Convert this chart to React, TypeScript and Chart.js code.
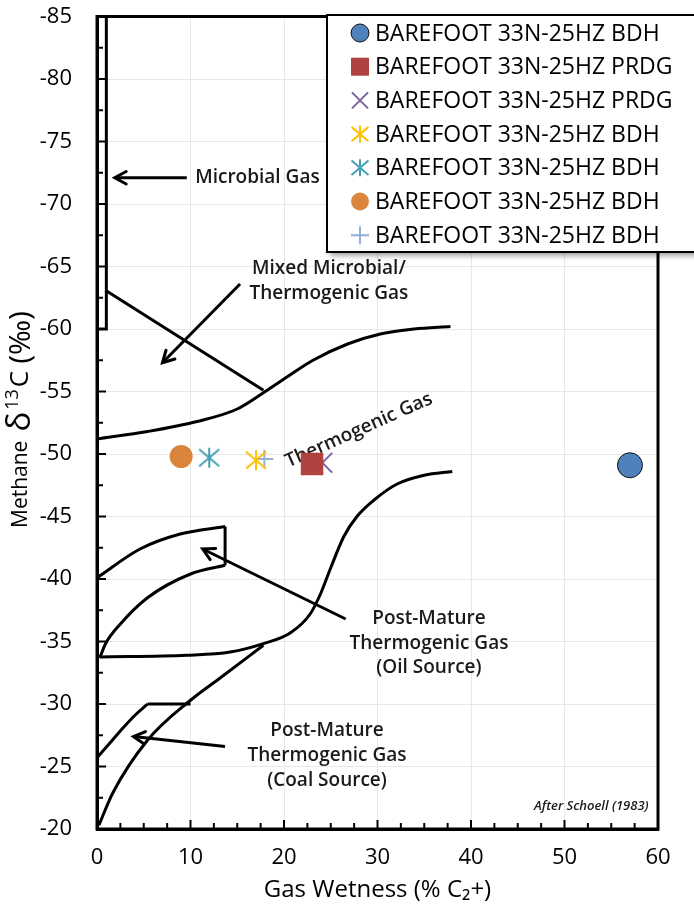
import React, { useEffect, useRef } from 'react';
import { Chart, registerables } from 'chart.js';

Chart.register(...registerables);

const FONT = '"Open Sans", "Liberation Sans", sans-serif';

// ---------- sample series ----------
const seriesLabels = [
  'BAREFOOT 33N-25HZ BDH',
  'BAREFOOT 33N-25HZ PRDG',
  'BAREFOOT 33N-25HZ PRDG',
  'BAREFOOT 33N-25HZ BDH',
  'BAREFOOT 33N-25HZ BDH',
  'BAREFOOT 33N-25HZ BDH',
  'BAREFOOT 33N-25HZ BDH',
];
const seriesX = [57.0, 23.0, 24.1, 17.0, 12.0, 9.0, 17.9];
const seriesY = [-49.1, -49.2, -49.3, -49.5, -49.7, -49.8, -49.6];
const seriesColors = ['#4F81BD', '#B0433F', '#7B62A0', '#FFC000', '#449FB5', '#DA843C', '#93AFD6'];
const seriesStyles = ['circle', 'rect', 'crossRot', 'asterisk', 'asterisk', 'circle', 'cross'];

// ---------- Schoell (1983) field boundaries ----------
const microbialBoxX = [1, 1, 0];
const microbialBoxY = [-85, -60, -60];

const mixedLineX = [0.9, 17.8];
const mixedLineY = [-63.1, -55.1];

const thermoUpperX = [0, 5.4, 10.7, 15.0, 17.8, 20.4, 23.1, 26.8, 30.3, 33.9, 37.8];
const thermoUpperY = [-51.2, -51.8, -52.6, -53.6, -54.9, -56.2, -57.5, -58.8, -59.6, -60.0, -60.2];

const thermoLowerX = [0.3, 9.6, 14.25, 17.8, 20.7, 22.8, 23.9, 25.0, 26.4, 27.8, 29.6, 32.1, 35.0, 38.0];
const thermoLowerY = [-33.76, -33.9, -34.16, -34.83, -35.7, -37.2, -38.8, -40.9, -43.4, -45.0, -46.3, -47.6, -48.3, -48.6];

const oilUpperX = [0, 4.6, 8.9, 13.7];
const oilUpperY = [-40.1, -42.4, -43.6, -44.2];
const oilSideX = [13.7, 13.7];
const oilSideY = [-44.2, -41.1];
const oilLowerX = [0.3, 0.9, 2.5, 5.4, 10.0, 13.7];
const oilLowerY = [-33.7, -34.8, -36.4, -38.5, -40.4, -41.1];

const coalUpperX = [0, 1.4, 2.8, 4.2, 5.4];
const coalUpperY = [-25.7, -26.9, -28.1, -29.2, -30.0];
const coalTopX = [5.4, 10.0];
const coalTopY = [-30.0, -30.0];
const coalLowerX = [0.2, 1.7, 5.4, 10.0, 13.2, 17.8];
const coalLowerY = [-20.3, -22.9, -27.1, -30.3, -32.1, -34.7];

// arrows (tail -> head)
const arrowFromX = [9.6, 15.3, 26.6, 13.7];
const arrowFromY = [-72.1, -63.6, -36.8, -26.6];
const arrowToX = [1.9, 7.0, 11.3, 3.9];
const arrowToY = [-72.1, -57.3, -42.4, -27.4];

// annotation texts
const noteTexts = [
  'Microbial Gas',
  'Mixed Microbial/',
  'Thermogenic Gas',
  'Thermogenic Gas',
  'Post-Mature',
  'Thermogenic Gas',
  '(Oil Source)',
  'Post-Mature',
  'Thermogenic Gas',
  '(Coal Source)',
];
const noteX = [10.5, 24.8, 24.8, 28.0, 35.5, 35.5, 35.5, 24.6, 24.6, 24.6];
const noteY = [-72.1, -64.8, -62.8, -51.9, -36.85, -34.8, -32.9, -27.9, -25.9, -23.9];
const noteAlign = ['left', 'center', 'center', 'center', 'center', 'center', 'center', 'center', 'center', 'center'];
const noteRotation = [0, 0, 0, -24, 0, 0, 0, 0, 0, 0];

const creditText = 'After Schoell (1983)';
const creditX = 59.0;
const creditY = -21.8;

// axis titles (y title drawn with a real superscript)
const xTitle = 'Gas Wetness (% C₂+)';
const yTitleParts = ['Methane', 'δ', '13', 'C', '(‰)'];

const xMin = 0, xMax = 60, xMajor = 10;
const yMin = -85, yMax = -20, yMajor = 5;
const minorStep = 2.5;

const pts = (xs: number[], ys: number[]) => xs.map((x, i) => ({ x, y: ys[i] }));
const isMult = (v: number, m: number) => Math.abs(v / m - Math.round(v / m)) < 1e-6;

function asteriskCanvas(color: string, r: number, lw: number) {
  const c = document.createElement('canvas');
  const s = Math.ceil(r * 2 + lw * 2 + 2);
  c.width = s;
  c.height = s;
  const g = c.getContext('2d')!;
  const cx = s / 2, cy = s / 2;
  g.strokeStyle = color;
  g.lineWidth = lw;
  g.beginPath();
  g.moveTo(cx, cy - r); g.lineTo(cx, cy + r);
  g.moveTo(cx - r, cy - r * 0.85); g.lineTo(cx + r, cy + r * 0.85);
  g.moveTo(cx - r, cy + r * 0.85); g.lineTo(cx + r, cy - r * 0.85);
  g.stroke();
  return c;
}

function drawMarker(ctx: CanvasRenderingContext2D, style: string, x: number, y: number, color: string, outlined: boolean) {
  ctx.save();
  ctx.fillStyle = color;
  ctx.strokeStyle = color;
  ctx.lineWidth = 2;
  if (style === 'circle') {
    ctx.beginPath();
    ctx.arc(x, y, 9, 0, Math.PI * 2);
    ctx.fill();
    if (outlined) {
      ctx.strokeStyle = '#111';
      ctx.lineWidth = 1;
      ctx.stroke();
    }
  } else if (style === 'rect') {
    ctx.fillRect(x - 9, y - 9, 18, 18);
  } else if (style === 'crossRot') {
    ctx.beginPath();
    ctx.moveTo(x - 8, y - 8); ctx.lineTo(x + 8, y + 8);
    ctx.moveTo(x - 8, y + 8); ctx.lineTo(x + 8, y - 8);
    ctx.stroke();
  } else if (style === 'asterisk') {
    const r = 8.5;
    ctx.beginPath();
    ctx.moveTo(x, y - r); ctx.lineTo(x, y + r);
    ctx.moveTo(x - r, y - r * 0.85); ctx.lineTo(x + r, y + r * 0.85);
    ctx.moveTo(x - r, y + r * 0.85); ctx.lineTo(x + r, y - r * 0.85);
    ctx.stroke();
  } else if (style === 'cross') {
    ctx.beginPath();
    ctx.moveTo(x - 9, y); ctx.lineTo(x + 9, y);
    ctx.moveTo(x, y - 9); ctx.lineTo(x, y + 9);
    ctx.stroke();
  }
  ctx.restore();
}

export default function App() {
  const ref = useRef<HTMLCanvasElement | null>(null);

  useEffect(() => {
    document.body.style.margin = '0';
    const canvas = ref.current!;

    const pointStyleFor = (i: number): any => {
      const st = seriesStyles[i];
      if (st === 'asterisk') return asteriskCanvas(seriesColors[i], 10, 2);
      return st;
    };
    const radiusFor = [12.5, 14.5, 14, 11, 11, 10.5, 9];

    const seriesDatasets = seriesLabels.map((label, i) => ({
      label,
      type: 'scatter' as const,
      data: [{ x: seriesX[i], y: seriesY[i] }],
      pointStyle: pointStyleFor(i),
      pointRadius: radiusFor[i],
      backgroundColor: seriesColors[i],
      borderColor: i === 0 ? '#111' : seriesColors[i],
      borderWidth: i === 0 ? 1 : 2,
      showLine: false,
      order: 0,
    }));

    const lineDs = (data: any[], smooth: boolean) => ({
      type: 'line' as const,
      data,
      borderColor: '#000',
      borderWidth: 3,
      pointRadius: 0,
      fill: false,
      tension: smooth ? 0.4 : 0,
      cubicInterpolationMode: smooth ? 'monotone' : 'default',
      showLine: true,
      order: 5,
    });

    const boundaryDatasets = [
      lineDs(pts(microbialBoxX, microbialBoxY), false),
      lineDs(pts(mixedLineX, mixedLineY), false),
      lineDs(pts(thermoUpperX, thermoUpperY), true),
      lineDs(pts(thermoLowerX, thermoLowerY), true),
      lineDs(pts(oilUpperX, oilUpperY), true),
      lineDs(pts(oilSideX, oilSideY), false),
      lineDs(pts(oilLowerX, oilLowerY), true),
      lineDs(pts(coalUpperX, coalUpperY), true),
      lineDs(pts(coalTopX, coalTopY), false),
      lineDs(pts(coalLowerX, coalLowerY), true),
    ];
    const arrowDatasets = arrowFromX.map((fx, i) =>
      lineDs([{ x: fx, y: arrowFromY[i] }, { x: arrowToX[i], y: arrowToY[i] }], false)
    );

    const decorPlugin = {
      id: 'decor',
      beforeDatasetsDraw(chart: any) {
        const { ctx, scales } = chart;
        const xs = scales.x, ys = scales.y;
        ctx.save();
        ctx.fillStyle = '#1a1a1a';
        ctx.textBaseline = 'middle';
        ctx.font = `600 19px ${FONT}`;
        noteTexts.forEach((t, i) => {
          const px = xs.getPixelForValue(noteX[i]);
          const py = ys.getPixelForValue(noteY[i]);
          ctx.save();
          ctx.translate(px, py);
          ctx.rotate((noteRotation[i] * Math.PI) / 180);
          ctx.textAlign = noteAlign[i] as CanvasTextAlign;
          ctx.fillText(t, 0, 0);
          ctx.restore();
        });
        ctx.font = `italic 600 13px ${FONT}`;
        ctx.textAlign = 'right';
        ctx.fillText(creditText, xs.getPixelForValue(creditX), ys.getPixelForValue(creditY));
        ctx.restore();
      },
      afterDatasetsDraw(chart: any) {
        const { ctx, scales } = chart;
        const xs = scales.x, ys = scales.y;
        ctx.save();
        ctx.strokeStyle = '#000';
        ctx.lineWidth = 3;
        ctx.lineCap = 'round';
        arrowFromX.forEach((fx, i) => {
          const x0 = xs.getPixelForValue(fx), y0 = ys.getPixelForValue(arrowFromY[i]);
          const x1 = xs.getPixelForValue(arrowToX[i]), y1 = ys.getPixelForValue(arrowToY[i]);
          const a = Math.atan2(y1 - y0, x1 - x0);
          const L = 13, w = 0.5;
          ctx.beginPath();
          ctx.moveTo(x1 - L * Math.cos(a - w), y1 - L * Math.sin(a - w));
          ctx.lineTo(x1, y1);
          ctx.lineTo(x1 - L * Math.cos(a + w), y1 - L * Math.sin(a + w));
          ctx.stroke();
        });
        ctx.restore();
      },
      afterDraw(chart: any) {
        const { ctx, scales, chartArea } = chart;
        const xs = scales.x, ys = scales.y;
        const { left, right, top, bottom } = chartArea;
        ctx.save();
        ctx.strokeStyle = '#000';
        ctx.lineWidth = 2;
        xs.ticks.forEach((t: any) => {
          const px = xs.getPixelForValue(t.value);
          const len = isMult(t.value, xMajor) ? 9 : 6;
          ctx.beginPath();
          ctx.moveTo(px, bottom);
          ctx.lineTo(px, bottom - len);
          ctx.stroke();
        });
        ys.ticks.forEach((t: any) => {
          const py = ys.getPixelForValue(t.value);
          const len = isMult(t.value, yMajor) ? 9 : 6;
          ctx.beginPath();
          ctx.moveTo(left, py);
          ctx.lineTo(left + len, py);
          ctx.stroke();
        });
        ctx.lineWidth = 3;
        ctx.strokeRect(left, top, right - left, bottom - top);

        // y axis title: Methane δ13C (‰), with superscript 13
        ctx.save();
        ctx.translate(21, 528);
        ctx.rotate(-Math.PI / 2);
        ctx.fillStyle = '#000';
        ctx.textBaseline = 'middle';
        ctx.textAlign = 'left';
        const fonts = [`21px ${FONT}`, `33px ${FONT}`, `18px ${FONT}`, `26px ${FONT}`, `30px ${FONT}`];
        const gapsBefore = [0, 9, 2, 2, 7];
        const dy = [0, 0, -8, 0, 0];
        let pos = 0;
        yTitleParts.forEach((p, i) => {
          ctx.font = fonts[i];
          pos += gapsBefore[i];
          ctx.fillText(p, pos, dy[i]);
          pos += ctx.measureText(p).width;
        });
        ctx.restore();

        // legend
        const bx = 327, by = 15, bw = 380, bh = 237;
        ctx.shadowColor = 'rgba(0,0,0,0.45)';
        ctx.shadowBlur = 6;
        ctx.shadowOffsetX = 3;
        ctx.shadowOffsetY = 3;
        ctx.fillStyle = '#fff';
        ctx.fillRect(bx, by, bw, bh);
        ctx.shadowColor = 'rgba(0,0,0,0)';
        ctx.lineWidth = 2;
        ctx.strokeStyle = '#000';
        ctx.strokeRect(bx, by, bw, bh);
        ctx.font = `23px ${FONT}`;
        ctx.textBaseline = 'middle';
        ctx.textAlign = 'left';
        seriesLabels.forEach((lab, i) => {
          const ry = 33 + i * 33.7;
          drawMarker(ctx, seriesStyles[i], 360, ry, seriesColors[i], i === 0);
          ctx.fillStyle = '#000';
          ctx.fillText(lab, 375, ry + 1);
        });
        ctx.restore();
      },
    };

    const chart = new Chart(canvas, {
      type: 'scatter',
      data: { datasets: [...seriesDatasets, ...boundaryDatasets, ...arrowDatasets] as any },
      options: {
        animation: false,
        responsive: false,
        maintainAspectRatio: false,
        layout: { padding: { top: 15, right: 36, left: 0, bottom: 0 } },
        plugins: { legend: { display: false }, tooltip: { enabled: false } },
        scales: {
          x: {
            type: 'linear',
            min: xMin,
            max: xMax,
            ticks: {
              stepSize: minorStep,
              autoSkip: false,
              maxRotation: 0,
              padding: 16,
              color: '#000',
              font: { family: FONT, size: 22 },
              callback: (v: any) => (isMult(Number(v), xMajor) ? String(v) : ''),
            },
            grid: {
              drawTicks: false,
              color: (c: any) => (c.tick && isMult(c.tick.value, xMajor) ? '#E8E8E8' : 'rgba(0,0,0,0)'),
            },
            border: { display: true, color: '#000', width: 3 },
            title: {
              display: true,
              text: xTitle,
              color: '#000',
              font: { family: FONT, size: 24 },
              padding: { top: 0, bottom: 4 },
            },
            afterFit: (s: any) => { s.height = 80; s.paddingLeft = 0; s.paddingRight = 0; },
          },
          y: {
            type: 'linear',
            min: yMin,
            max: yMax,
            reverse: true,
            ticks: {
              stepSize: minorStep,
              autoSkip: false,
              padding: 25,
              color: '#000',
              font: { family: FONT, size: 22 },
              callback: (v: any) => (isMult(Number(v), yMajor) ? String(v) : ''),
            },
            grid: {
              drawTicks: false,
              color: (c: any) => (c.tick && isMult(c.tick.value, yMajor) ? '#E8E8E8' : 'rgba(0,0,0,0)'),
            },
            border: { display: true, color: '#000', width: 3 },
            title: { display: false },
            afterFit: (s: any) => { s.width = 97; s.paddingTop = 0; s.paddingBottom = 0; },
          },
        },
      } as any,
      plugins: [decorPlugin],
    });

    return () => chart.destroy();
  }, []);

  return (
    <div style={{ width: 694, height: 909 }}>
      <canvas ref={ref} width={694} height={909} style={{ display: 'block', width: 694, height: 909 }} />
    </div>
  );
}
